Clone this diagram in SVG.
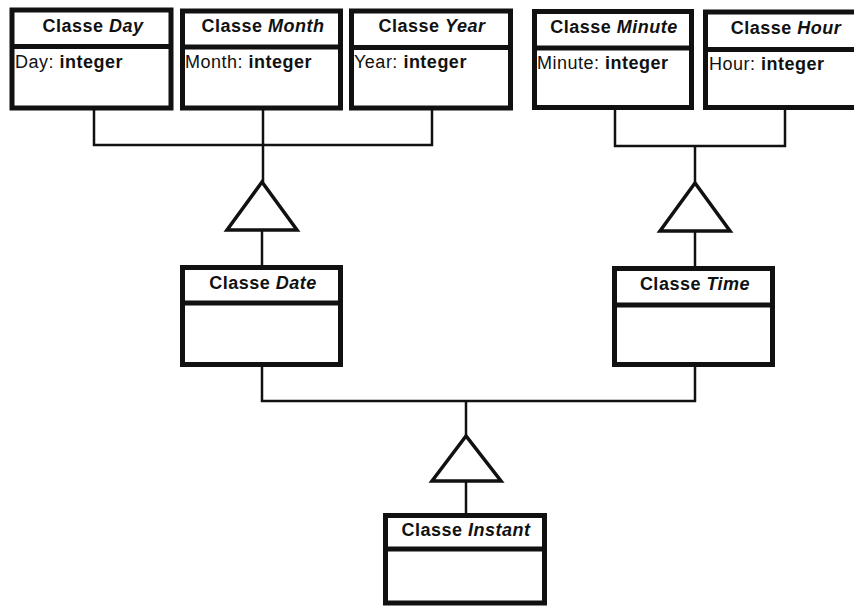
<svg xmlns="http://www.w3.org/2000/svg" width="854" height="607" viewBox="0 0 854 607">
  <style>
    .box { fill: #ffffff; stroke: #111111; stroke-width: 5; }
    .div { stroke: #111111; stroke-width: 5; }
    .wire { fill: none; stroke: #111111; stroke-width: 2.5; }
    .tri { fill: #ffffff; stroke: #111111; stroke-width: 3.5; stroke-linejoin: miter; }
    .title { font-family: "Liberation Sans", Arial, sans-serif; font-size: 18px; font-weight: bold; fill: #111111; text-anchor: middle; letter-spacing: 0.5px; }
    .title .it { font-style: italic; }
    .attr { font-family: "Liberation Sans", Arial, sans-serif; font-size: 18px; fill: #111111; letter-spacing: 0.5px; }
    .attr .b { font-weight: bold; }
  </style>

  <rect width="854" height="607" fill="#ffffff"/>

  <!-- connectors: generalisation trees -->
  <g id="connectors">
    <!-- Day / Month / Year to Date -->
    <polyline class="wire" points="94,108 94,145 432,145 432,108"/>
    <line class="wire" x1="263" y1="108" x2="263" y2="182"/>
    <line class="wire" x1="262" y1="230" x2="262" y2="267"/>
    <polygon class="tri" points="262,182 227,230 297,230"/>

    <!-- Minute / Hour to Time -->
    <polyline class="wire" points="615,108 615,146 785,146 785,108"/>
    <line class="wire" x1="695" y1="146" x2="695" y2="183"/>
    <line class="wire" x1="695" y1="231" x2="695" y2="268"/>
    <polygon class="tri" points="695,183 660,231 730,231"/>

    <!-- Date / Time to Instant -->
    <polyline class="wire" points="262,365 262,401 695,401 695,365"/>
    <line class="wire" x1="466" y1="401" x2="466" y2="436"/>
    <line class="wire" x1="466" y1="481" x2="466" y2="515"/>
    <polygon class="tri" points="466,436 432,481 501,481"/>
  </g>

  <g id="day">
    <rect class="box" x="12" y="10" width="159" height="98"/>
    <line class="div" x1="12" y1="46.5" x2="171" y2="46.5"/>
    <text class="title" x="93" y="32">Classe <tspan class="it">Day</tspan></text>
    <text class="attr" x="15" y="68">Day: <tspan class="b">integer</tspan></text>
  </g>

  <g id="month">
    <rect class="box" x="182.5" y="11" width="158" height="97"/>
    <line class="div" x1="182.5" y1="47" x2="340.5" y2="47"/>
    <text class="title" x="263" y="32">Classe <tspan class="it">Month</tspan></text>
    <text class="attr" x="185" y="68">Month: <tspan class="b">integer</tspan></text>
  </g>

  <g id="year">
    <rect class="box" x="351.5" y="11" width="159" height="97"/>
    <line class="div" x1="351.5" y1="47.5" x2="510.5" y2="47.5"/>
    <text class="title" x="432" y="32">Classe <tspan class="it">Year</tspan></text>
    <text class="attr" x="354" y="68">Year: <tspan class="b">integer</tspan></text>
  </g>

  <g id="minute">
    <rect class="box" x="534.5" y="11.5" width="157" height="96"/>
    <line class="div" x1="534.5" y1="48" x2="691.5" y2="48"/>
    <text class="title" x="614" y="33">Classe <tspan class="it">Minute</tspan></text>
    <text class="attr" x="537" y="69">Minute: <tspan class="b">integer</tspan></text>
  </g>

  <g id="hour">
    <rect class="box" x="705.5" y="12" width="160" height="95.5"/>
    <line class="div" x1="705.5" y1="49.5" x2="865" y2="49.5"/>
    <text class="title" x="786" y="34">Classe <tspan class="it">Hour</tspan></text>
    <text class="attr" x="709" y="70">Hour: <tspan class="b">integer</tspan></text>
  </g>

  <g id="date">
    <rect class="box" x="182.5" y="267.5" width="158" height="97"/>
    <line class="div" x1="182.5" y1="303" x2="340.5" y2="303"/>
    <text class="title" x="263" y="289">Classe <tspan class="it">Date</tspan></text>
  </g>

  <g id="time">
    <rect class="box" x="614.5" y="268.5" width="158" height="96"/>
    <line class="div" x1="614.5" y1="305" x2="772.5" y2="305"/>
    <text class="title" x="695" y="290">Classe <tspan class="it">Time</tspan></text>
  </g>

  <g id="instant">
    <rect class="box" x="385.5" y="515.5" width="159" height="87.5"/>
    <line class="div" x1="385.5" y1="549" x2="544.5" y2="549"/>
    <text class="title" x="466" y="536">Classe <tspan class="it">Instant</tspan></text>
  </g>
</svg>
